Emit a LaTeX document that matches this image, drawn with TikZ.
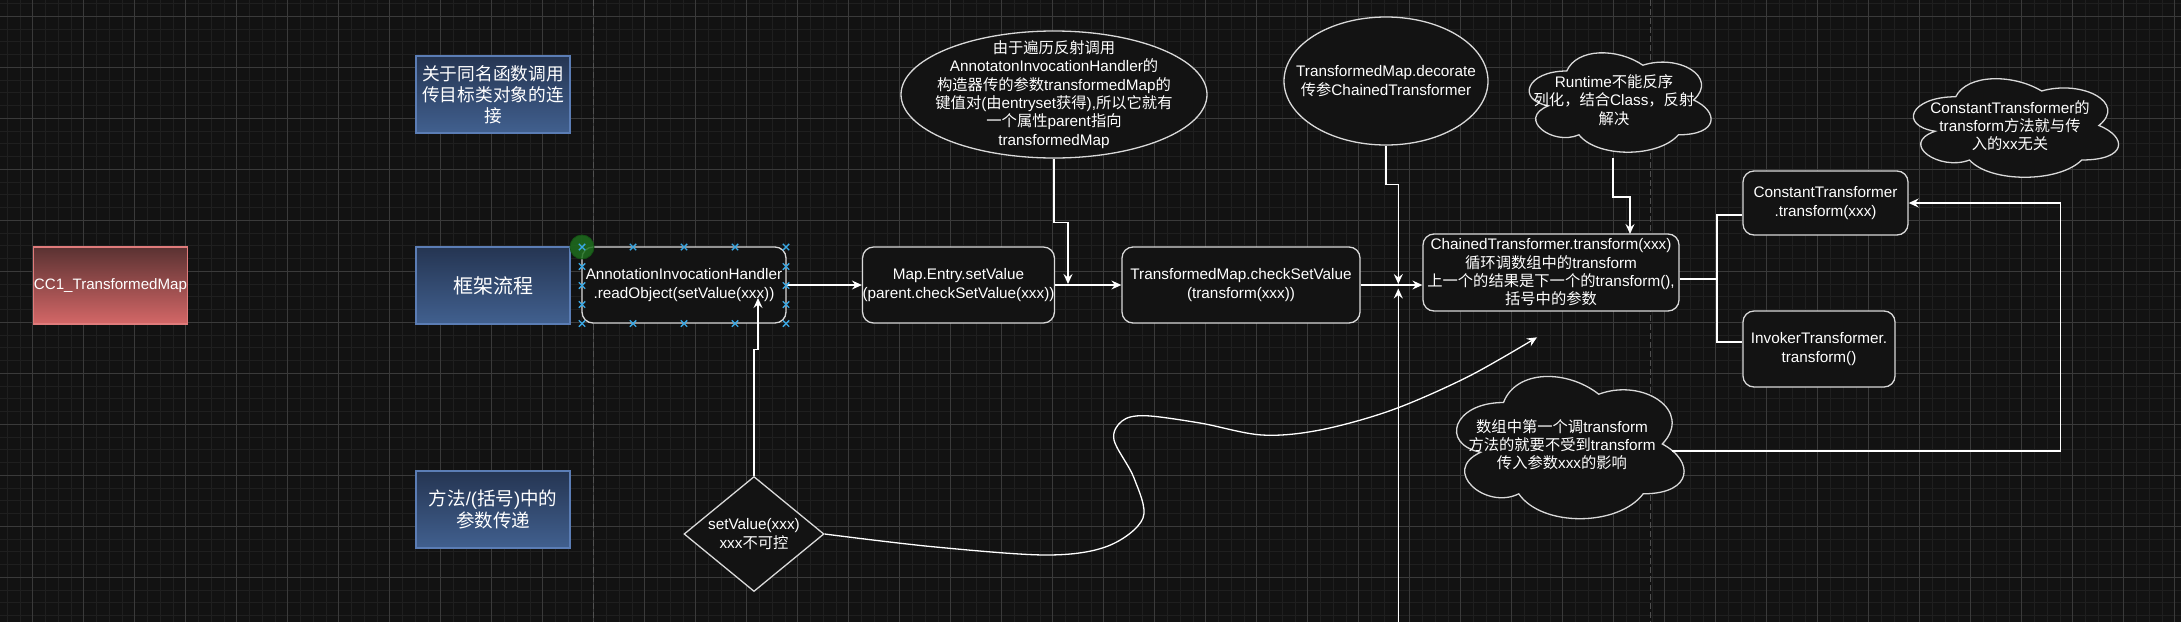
\documentclass[tikz,border=0pt]{standalone}
\usepackage{fontspec}
\setmainfont{Liberation Sans}
\newfontfamily\latfont{Liberation Sans}
\newfontfamily\cjkfont{Noto Sans CJK SC}
\usetikzlibrary{arrows.meta,shapes.geometric}
% automatic switch to the CJK font for CJK characters
\newcount\cjkcnt
\cjkcnt="4E00
\loop \XeTeXcharclass\cjkcnt=1 \advance\cjkcnt by 1 \ifnum\cjkcnt<"A000 \repeat
\cjkcnt="3000
\loop \XeTeXcharclass\cjkcnt=1 \advance\cjkcnt by 1 \ifnum\cjkcnt<"3040 \repeat
\cjkcnt="FF00
\loop \XeTeXcharclass\cjkcnt=1 \advance\cjkcnt by 1 \ifnum\cjkcnt<"FFF0 \repeat
\XeTeXinterchartokenstate=1
\XeTeXinterchartoks 0 1 = {\cjkfont}
\XeTeXinterchartoks 4095 1 = {\cjkfont}
\XeTeXinterchartoks 1 0 = {\latfont}
\XeTeXinterchartoks 1 4095 = {\latfont}

\definecolor{bg}{HTML}{121212}
\definecolor{gridminor}{HTML}{1F1F1F}
\definecolor{gridmajor}{HTML}{3A3A3A}
\definecolor{pagebrk}{HTML}{505050}
\definecolor{boxline}{HTML}{D9D9D9}
\definecolor{boxfill}{HTML}{131313}
\definecolor{bluetop}{HTML}{253552}
\definecolor{bluebot}{HTML}{41608F}
\definecolor{blueline}{HTML}{5B7DB5}
\definecolor{redtop}{HTML}{5A3232}
\definecolor{redbot}{HTML}{D46767}
\definecolor{redline}{HTML}{E07B7B}
\definecolor{handle}{HTML}{3AA8E4}
\definecolor{selgreen}{HTML}{1E6E1E}
\definecolor{selgreenline}{HTML}{145214}

\tikzset{
  txt/.style={text=white, align=center, inner sep=0pt, font=\fontsize{15.3}{18.3}\selectfont},
  rbox/.style={draw=boxline, line width=1.3pt, fill=boxfill, rounded corners=11pt, inner sep=0pt, txt},
  bluebox/.style={draw=blueline, line width=1.2pt, top color=bluetop, bottom color=bluebot,
     minimum width=154pt, minimum height=77pt, inner sep=0pt, text=white, align=center},
  redbox/.style={draw=redline, line width=1.2pt, top color=redtop, bottom color=redbot,
     minimum width=154pt, minimum height=77pt, inner sep=0pt, text=white, align=center,
     font=\fontsize{15.1}{18}\selectfont},
  shapeline/.style={draw=boxline, line width=1.3pt, fill=boxfill},
  conn/.style={draw=white, line width=1.3pt},
  arr/.style={conn, -{Stealth[length=10pt,width=9pt,inset=3.5pt]}},
  thickconn/.style={draw=white, line width=2.4pt},
  handlemark/.style={draw=handle, line width=1.4pt},
  gminor/.style={draw=gridminor, line width=0.8pt},
  gmajor/.style={draw=gridmajor, line width=0.9pt},
  pagebreak/.style={draw=pagebrk, line width=1pt, dash pattern=on 6pt off 3pt},
}

\newcommand\drawcloud[4]{%
  \begin{scope}[shift={(#1,#2)}, xscale=#3, yscale=#4]
    \draw[shapeline] (0.25,0.25) .. controls (0.05,0.25) and (0,0.5) .. (0.16,0.55)
      .. controls (0,0.66) and (0.18,0.9) .. (0.31,0.8)
      .. controls (0.4,1) and (0.7,1) .. (0.8,0.8)
      .. controls (1,0.8) and (1,0.6) .. (0.875,0.5)
      .. controls (1,0.3) and (0.8,0.1) .. (0.625,0.2)
      .. controls (0.5,0.05) and (0.3,0.05) .. (0.25,0.25) -- cycle;
  \end{scope}}

\begin{document}
\begin{tikzpicture}[x=1pt, y=-1pt]
\useasboundingbox (0,0) rectangle (2181,622);
\fill[bg] (0,0) rectangle (2181,622);
% grid
\foreach \i in {0,...,171} \draw[gminor] ({7.2+12.75*\i},0) -- ++(0,622);
\foreach \j in {0,...,48} \draw[gminor] (0,{3.55+12.75*\j}) -- ++(2181,0);
\foreach \i in {0,...,42} \draw[gmajor] ({32.7+51*\i},0) -- ++(0,622);
\foreach \j in {0,...,11} \draw[gmajor] (0,{16.3+51*\j}) -- ++(2181,0);
% page breaks
\draw[pagebreak] (593.7,0) -- (593.7,622);
\draw[pagebreak] (1650,0) -- (1650,622);

% left column
\node[redbox] (cc1) at (110.5,285.5) {CC1\_TransformedMap};
\node[bluebox, font=\fontsize{17.7}{21.2}\selectfont] (blue1) at (493,94.5) {关于同名函数调用\\传目标类对象的连\\接};
\node[bluebox, font=\fontsize{20}{24}\selectfont] (blue2) at (493,285.5) {框架流程};
\node[bluebox, font=\fontsize{18.5}{22}\selectfont] (blue3) at (493,509.5) {方法/(括号)中的\\参数传递};

% main chain
\node[rbox, minimum width=204pt, minimum height=76pt] (aih) at (684,285) {AnnotationInvocationHandler\\.readObject(setValue(xxx))};
\node[rbox, minimum width=191pt, minimum height=76pt] (mes) at (958.5,285) {Map.Entry.setValue\\(parent.checkSetValue(xxx))};
\node[rbox, minimum width=238pt, minimum height=76pt] (tmc) at (1241,285) {TransformedMap.checkSetValue\\(transform(xxx))};
\node[rbox, minimum width=256pt, minimum height=77pt] (chain) at (1551,272.5) {ChainedTransformer.transform(xxx)\\循环调数组中的transform\\上一个的结果是下一个的transform(),\\括号中的参数};
\node[rbox, minimum width=165pt, minimum height=64pt] (const) at (1825.5,203) {ConstantTransformer\\.transform(xxx)};
\node[rbox, minimum width=152pt, minimum height=76pt] (invk) at (1819,349) {InvokerTransformer.\\transform()};

% ellipses
\node[ellipse, shapeline, minimum width=306pt, minimum height=127pt, inner sep=0pt] (ell1) at (1054,94.5) {};
\node[txt] (ell1t) at (ell1.center) {由于遍历反射调用\\AnnotatonInvocationHandler的\\构造器传的参数transformedMap的\\键值对(由entryset获得),所以它就有\\一个属性parent指向\\transformedMap};
\node[ellipse, shapeline, minimum width=204pt, minimum height=128pt, inner sep=0pt] (ell2) at (1386,81) {};
\node[txt] (ell2t) at (ell2.center) {TransformedMap.decorate\\传参ChainedTransformer};

% diamond
\node[diamond, shapeline, minimum width=140pt, minimum height=115pt, inner sep=0pt] (dia) at (754,534) {};
\node[txt] (diat) at (dia.center) {setValue(xxx)\\xxx不可控};

% clouds
\drawcloud{1516}{42}{203}{116}
\node[txt] (cloudR) at (1614,100) {Runtime不能反序\\列化，结合Class，反射\\解决};
\drawcloud{1898.5}{68}{229}{115}
\node[txt] (cloudC) at (2010,125.5) {ConstantTransformer的\\transform方法就与传\\入的xx无关};
\drawcloud{1440}{361}{254}{166}
\node[txt] (cloudA) at (1562,444.5) {数组中第一个调transform\\方法的就要不受到transform\\传入参数xxx的影响};

% coordinates for connector ends
\coordinate (e1a) at (1068,284);
\coordinate (e2a) at (1398.3,284);
\coordinate (botstart) at (1398.3,622);
\coordinate (e2b) at (1398.3,288.5);
\coordinate (cRb) at (1613,158);
\coordinate (cRend) at (1630,234);
\coordinate (br) at (1716.7,279);
\coordinate (cB1) at (1716.7,215);
\coordinate (cB2) at (1716.7,342);
\coordinate (cAr) at (1672,451);
\coordinate (aihin) at (758,298);
\coordinate (curveend) at (1537,337.3);

% connectors
\draw[arr] (aih.east) -- (mes.west);
\draw[arr] (mes.east) -- (tmc.west);
\draw[arr] (tmc.east) -- (tmc.east -| chain.west);
\draw[arr] (ell1.south) -- ++(0,64) -| (e1a);
\draw[arr] (ell2.south) -- ++(0,38.7) -| (e2a);
\draw[arr] (botstart) -- (e2b);
\draw[arr] (cRb) -- ++(0,39) -| (cRend);
\draw[thickconn] (chain.east |- br) -- (br) (cB1 -| const.west) -- (cB1) -- (cB2) -- (cB2 -| invk.west);
\draw[arr] (cAr) -- (2060.5,451) |- (const.east);
\draw[arr] (dia.north) |- (758,349.3) -- (aihin);
\draw[arr] plot[smooth, tension=0.55] coordinates {(dia.east) (932.6,546.7) (1047.3,555) (1108,546) (1143,518) (1134,478) (1114,440) (1122,421) (1145,415.7) (1200,423) (1262,435) (1320,430) (1392,410) (1468,376.7) (curveend)};

% selection marks on the first box
\fill[selgreen, opacity=0.85] (582,247) circle (12pt);
\draw[selgreenline, line width=0.8pt] (582,247) circle (12pt);
\foreach \x/\y in {582/247, 633/247, 684/247, 735/247, 786/247,
                   582/323.5, 633/323.5, 684/323.5, 735/323.5, 786/323.5,
                   582/266.5, 582/285.5, 582/304.5, 786/266.5, 786/285.5, 786/304.5}
  \draw[handlemark] (\x,\y) ++(-3.2,-3.2) -- ++(6.4,6.4) ++(-6.4,0) -- ++(6.4,-6.4);
\end{tikzpicture}
\end{document}
